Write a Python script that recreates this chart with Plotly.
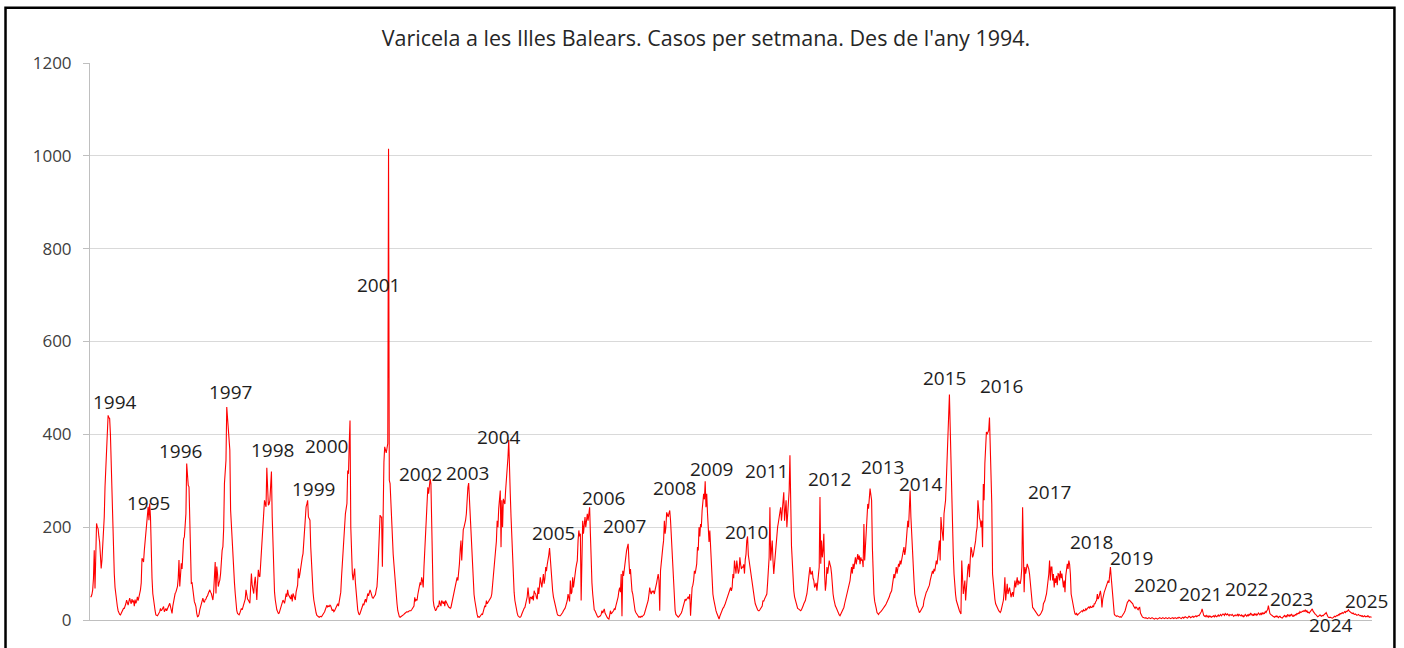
import plotly.graph_objects as go

# Weekly varicella cases, Balearic Islands (52 weekly values per year)
cases_1994 = [50,50,55,65,90,150,68,120,208,200,197,180,168,140,111,129,160,186,222,287,330,380,427,441,436,434,400,344,237,190,158,100,70,54,35,29,20,14,12,11,15,18,22,25,25,29,35,43,38,32,40,47]
cases_1995 = [40,35,45,38,42,30,44,36,40,50,42,48,55,65,80,133,130,125,150,172,190,200,220,244,215,251,222,136,90,57,40,29,20,11,10,9,12,15,18,25,20,22,28,29,18,22,25,20,24,28,30,36]
cases_1996 = [29,20,14,30,43,50,57,60,65,72,90,129,72,100,122,110,172,175,179,200,229,337,294,290,287,229,158,79,80,65,57,39,35,29,15,7,8,12,22,28,29,35,47,40,38,44,45,50,52,57,60,65]
cases_1997 = [60,57,50,43,60,90,125,57,115,100,72,80,86,100,143,150,158,197,294,320,344,459,434,400,373,366,237,200,158,129,100,80,57,35,20,14,12,11,15,20,25,22,29,35,40,45,65,50,45,43,40,36]
cases_1998 = [70,100,75,60,57,80,93,70,43,80,108,95,93,120,147,170,197,230,258,250,244,328,300,247,250,258,290,320,222,150,93,60,43,30,22,18,14,15,20,25,30,35,43,40,36,45,57,50,65,55,50,48]
cases_1999 = [45,55,40,57,50,48,43,60,65,75,111,90,100,115,129,135,143,170,208,230,244,250,258,222,218,215,158,110,86,60,43,30,22,15,10,8,7,6,7,8,7,9,12,15,18,22,25,32,28,30,29,32]
cases_2000 = [30,25,20,22,18,20,25,28,32,35,30,40,43,60,93,120,150,180,215,229,240,251,322,315,380,430,200,130,100,86,95,111,80,57,35,22,15,11,14,18,22,29,35,32,40,45,38,50,57,52,60,65]
cases_2001 = [60,50,48,47,50,54,55,65,72,100,158,190,226,222,222,115,322,340,373,365,360,370,380,1015,301,294,250,222,178,142,120,92,70,56,35,20,12,7,6,7,8,9,10,12,14,15,16,18,17,19,20,20]
cases_2002 = [20,22,25,25,30,49,40,45,42,55,63,70,81,75,92,85,70,114,150,207,229,260,286,272,290,304,294,186,85,42,30,24,20,22,25,31,28,42,35,30,42,38,35,40,30,42,38,35,30,28,27,25]
cases_2003 = [27,35,40,49,55,63,70,80,92,85,100,121,150,171,128,186,195,200,207,215,229,272,286,295,260,236,190,157,110,85,55,42,30,20,12,6,7,6,9,10,13,12,18,22,31,28,42,35,38,42,45,49]
cases_2004 = [49,56,75,92,106,120,135,170,214,200,240,272,279,157,258,200,261,255,250,280,301,322,350,388,286,272,222,180,142,85,60,42,30,20,15,9,7,6,6,8,13,18,24,25,27,35,42,50,70,45,35,49]
cases_2005 = [49,45,52,42,63,58,56,48,45,70,56,75,92,80,70,85,99,78,90,114,105,120,128,140,155,128,99,80,63,50,42,30,24,18,13,10,9,9,9,11,13,16,20,22,25,30,35,42,56,45,40,85]
cases_2006 = [56,60,92,70,85,106,110,120,128,171,193,180,186,42,200,214,186,205,222,200,215,229,214,235,243,186,114,80,56,27,22,20,15,9,8,6,7,8,9,12,20,15,18,24,15,10,8,5,3,2,10,20]
cases_2007 = [13,15,18,20,24,22,30,35,42,50,63,70,60,99,8,106,95,110,121,142,150,157,164,128,99,110,70,62,56,40,27,20,16,14,12,9,6,7,6,8,7,9,10,13,18,22,27,35,42,55,70,60]
cases_2008 = [56,63,60,63,56,65,70,80,90,99,85,20,106,128,150,157,171,214,186,200,232,228,222,230,236,215,180,157,92,56,35,20,12,9,7,6,8,10,13,15,20,28,35,40,45,42,45,48,50,45,56,9]
cases_2009 = [63,70,75,85,106,100,110,121,157,150,200,180,207,200,236,250,272,260,299,243,272,230,200,168,193,150,114,85,56,45,35,28,20,15,9,5,2,8,13,15,20,25,27,30,35,40,45,50,56,60,63,70]
cases_2010 = [63,70,99,90,128,110,100,128,115,100,106,135,120,110,114,114,120,100,130,142,171,180,140,128,110,99,85,70,60,56,45,35,30,24,22,20,20,22,24,27,30,42,40,45,49,50,56,80,106,135,243,128]
cases_2011 = [150,171,128,99,120,140,157,193,200,210,222,230,243,214,230,250,275,214,240,258,200,236,250,279,355,200,160,128,78,63,50,42,35,27,25,24,22,20,20,22,25,30,35,38,42,50,56,70,92,100,114,99]
cases_2012 = [99,106,90,85,70,75,80,63,85,100,114,265,121,171,135,150,186,99,63,80,114,100,110,128,120,114,100,70,56,45,35,30,27,22,18,13,11,9,12,15,20,24,27,35,42,50,56,62,70,75,85,100]
cases_2013 = [114,100,121,110,125,135,120,128,142,130,139,120,135,128,130,114,207,128,157,180,200,250,240,258,283,270,258,157,92,56,40,35,25,16,14,12,15,16,18,20,22,24,28,30,32,35,38,42,45,50,56,60]
cases_2014 = [63,75,85,99,90,105,114,100,110,121,115,128,120,130,135,142,157,140,150,170,193,214,200,240,279,222,186,128,100,85,56,45,35,30,27,20,16,18,22,25,27,30,42,50,56,60,63,66,70,75,85,95]
cases_2015 = [99,106,100,110,105,114,128,120,140,157,171,128,222,200,180,171,229,240,258,301,340,380,409,486,416,337,250,171,142,99,70,55,42,35,27,22,20,16,13,128,99,56,70,85,42,70,99,114,121,92,130,157]
cases_2016 = [150,135,140,150,160,171,190,200,258,229,220,214,200,214,157,293,258,337,370,405,400,405,409,436,380,272,250,99,75,56,45,35,30,27,22,20,18,16,20,27,35,42,60,92,42,60,78,56,62,70,60,49]
cases_2017 = [56,60,50,65,85,70,80,92,75,85,80,78,90,114,243,157,60,114,100,110,121,115,110,99,78,56,40,27,25,22,20,18,15,12,10,9,10,12,15,20,22,35,38,42,50,56,70,80,99,128,85,114]
cases_2018 = [114,85,99,70,90,80,95,75,100,99,85,106,90,100,80,70,85,60,95,114,121,110,128,120,99,56,45,42,30,20,13,12,15,10,12,14,16,18,20,20,18,22,20,20,24,22,25,27,28,25,30,27]
cases_2019 = [27,30,28,35,35,40,42,56,45,49,55,63,50,27,45,56,60,65,70,75,78,85,80,99,114,92,70,56,35,13,10,9,8,9,8,7,6,7,6,8,10,13,16,20,27,30,38,40,43,42,40,38]
cases_2020 = [38,35,30,27,25,28,27,24,22,26,27,15,10,8,6,5,5,4,5,4,3,4,5,4,3,4,5,4,3,2,3,4,3,2,3,4,5,4,3,4,5,4,3,4,5,4,3,4,5,4,3,4]
cases_2021 = [4,5,3,4,5,4,3,5,4,6,5,4,3,5,6,4,5,7,6,5,4,6,8,7,5,6,7,8,6,7,8,9,7,8,10,9,12,14,18,24,15,10,8,9,7,10,8,6,9,7,8,6]
cases_2022 = [7,8,9,6,10,8,7,9,11,8,10,12,9,11,13,12,10,14,12,11,13,10,9,12,11,10,12,9,8,10,11,9,10,13,8,12,10,9,11,8,10,7,9,12,10,8,11,9,13,10,15,12]
cases_2023 = [10,12,9,14,11,13,10,12,15,13,11,14,12,16,13,15,14,18,16,20,22,31,18,14,12,10,9,8,7,6,8,7,9,6,5,7,8,6,5,4,6,8,10,7,9,6,12,10,8,11,9,13]
cases_2024 = [8,7,10,9,12,11,14,13,15,14,18,16,17,19,18,20,19,22,18,20,16,17,15,18,20,22,24,19,16,14,12,11,9,7,8,10,11,9,8,10,9,11,12,14,16,10,8,6,5,6,5,4]
cases_2025 = [4,5,6,8,7,9,10,9,12,11,14,13,15,16,14,17,18,16,19,18,20,22,19,17,16,15,14,15,13,12,13,11,10,11,12,10,9,10,8,9,7,8,9,7,8,7,9,8,6,7,6,6]

years = list(range(1994, 2026))
yearly = [cases_1994, cases_1995, cases_1996, cases_1997, cases_1998, cases_1999, cases_2000,
          cases_2001, cases_2002, cases_2003, cases_2004, cases_2005, cases_2006, cases_2007,
          cases_2008, cases_2009, cases_2010, cases_2011, cases_2012, cases_2013, cases_2014,
          cases_2015, cases_2016, cases_2017, cases_2018, cases_2019, cases_2020, cases_2021,
          cases_2022, cases_2023, cases_2024, cases_2025]

y_ticks = [0, 200, 400, 600, 800, 1000, 1200]
y_tick_labels = ["0", "200", "400", "600", "800", "1000", "1200"]

# year label placement (week index along series, value)
label_pos = [(31.5, 469), (75.7, 253), (116.8, 365), (181.7, 491), (236.6, 366), (289, 282),
             (306.3, 375), (373.4, 722), (428.3, 314), (489.7, 316), (530.9, 394), (600.6, 188),
             (665.5, 262), (693.5, 202), (758, 284), (806, 325), (851, 190), (877.4, 321),
             (958.8, 304), (1028.4, 329), (1078.2, 293), (1108.9, 521), (1182.4, 504),
             (1245.1, 275), (1299.3, 169), (1351.2, 134), (1382.3, 75), (1440.8, 55),
             (1500, 66), (1558.8, 45), (1610.8, -11), (1656.2, 42)]

weekly = []
for vals in yearly:
    weekly.extend(vals)
x_idx = list(range(len(weekly)))

PLOT_H = 648 - 63 - 28
Y_MAX = 1200

fig = go.Figure()
fig.add_trace(go.Scatter(x=x_idx, y=weekly, mode="lines",
                         line=dict(color="#ff0000", width=1.1), hoverinfo="skip",
                         showlegend=False))

for yr, (px, py) in zip(years, label_pos):
    # labels placed below the axis are anchored at 0 and shifted in pixels
    shift = min(py, 0) * PLOT_H / Y_MAX
    fig.add_annotation(x=px, y=max(py, 0), xref="x", yref="y", text=str(yr), showarrow=False,
                       yshift=shift,
                       font=dict(family="Open Sans", size=19, color="#1e1e1e"),
                       xanchor="center", yanchor="middle")

# outer frame
fig.add_shape(type="rect", xref="paper", yref="paper",
              x0=-0.0659, x1=1.0175, y0=-0.08, y1=1.0991,
              line=dict(color="black", width=2.5), fillcolor="rgba(0,0,0,0)", layer="above")

fig.update_layout(
    width=1404, height=648,
    margin=dict(l=90, r=32, t=63, b=28),
    paper_bgcolor="white", plot_bgcolor="white",
    title=dict(text="Varicela a les Illes Balears. Casos per setmana. Des de l'any 1994.",
               x=706/1404, xref="container", xanchor="center",
               y=1 - 38/648, yref="container", yanchor="middle",
               font=dict(family="Open Sans", size=21.5, color="#262626")),
    xaxis=dict(range=[-0.5, len(weekly) - 0.5], showgrid=False, zeroline=False,
               showticklabels=False, ticks="", showline=True, linecolor="#bfbfbf", linewidth=1),
    yaxis=dict(range=[0, Y_MAX], tickvals=y_ticks, ticktext=y_tick_labels,
               showgrid=True, gridcolor="#d9d9d9", gridwidth=1, zeroline=False,
               showline=True, linecolor="#bfbfbf", linewidth=1,
               ticks="outside", ticklen=6, tickcolor="#bfbfbf",
               ticklabelstandoff=8,
               tickfont=dict(family="Open Sans", size=17, color="#404040")),
)

fig.write_html("out.html", config={"displayModeBar": False},
               post_script="document.body.style.margin='0';document.body.style.padding='0';document.body.style.overflow='hidden';")
